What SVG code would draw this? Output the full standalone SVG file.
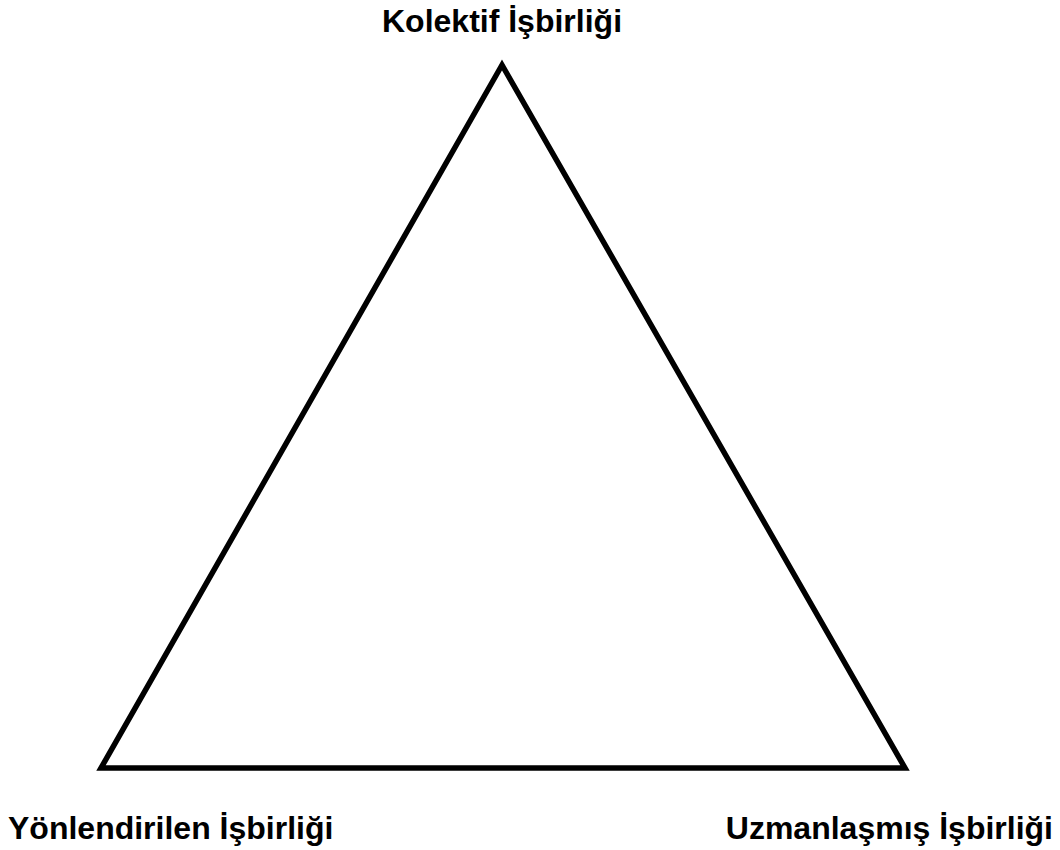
<svg xmlns="http://www.w3.org/2000/svg" width="1060" height="850" viewBox="0 0 1060 850">
<style>
.lbl{font-family:"Liberation Sans",Arial,sans-serif;font-weight:bold;font-size:32px;fill:#000}
.tri{fill:#fff;stroke:#000;stroke-width:5.5;stroke-linejoin:miter}
</style>
<rect width="1060" height="850" fill="#fff"/>
<g id="connectors">
<polygon class="tri" points="502,65 101,768 905,768"/>
</g>
<g id="node-top"><text class="lbl" x="502" y="32" text-anchor="middle">Kolektif İşbirliği</text></g>
<g id="node-left"><text class="lbl" x="8" y="839">Yönlendirilen İşbirliği</text></g>
<g id="node-right"><text class="lbl" x="1053" y="839" text-anchor="end">Uzmanlaşmış İşbirliği</text></g>
</svg>
